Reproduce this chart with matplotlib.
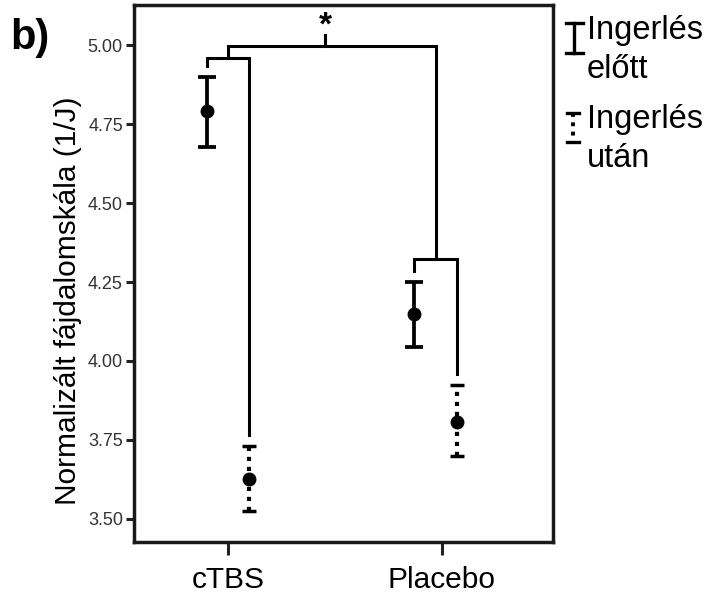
import matplotlib
matplotlib.use("Agg")
import matplotlib.pyplot as plt
from matplotlib.lines import Line2D

plt.rcParams['font.family'] = ['Liberation Sans', 'DejaVu Sans']

# ---- data ----
groups = ["cTBS", "Placebo"]
before_mean = [4.79, 4.15]
before_low = [4.678, 4.045]
before_high = [4.90, 4.25]
after_mean = [3.627, 3.807]
after_low = [3.525, 3.70]
after_high = [3.731, 3.925]
yticks = [3.50, 3.75, 4.00, 4.25, 4.50, 4.75, 5.00]
legend_labels = ["Ingerlés\nelőtt", "Ingerlés\nután"]
ylabel = "Normalizált fájdalomskála (1/J)"

# ---- layout / style ----
tick_pos = [0.0, 1.0]
mark_center = [0.0, 0.97]
offset = 0.1
bracket_y = [4.959, 4.323]
top_y = 4.997
leg_gap = 0.035
lw_err = 2.7
lw_br = 2.2
col = "black"

fig = plt.figure(figsize=(7.24, 5.99), dpi=100)
ax = fig.add_axes([134/724, 1-542/599, (553-134)/724, (542-5)/599])

xb = [c - offset for c in mark_center]
xa = [c + offset for c in mark_center]

eb1 = ax.errorbar(xb, before_mean,
                  yerr=[[m - l for m, l in zip(before_mean, before_low)],
                        [h - m for m, h in zip(before_mean, before_high)]],
                  fmt='o', color=col, ms=9, elinewidth=lw_err, capsize=6.5, capthick=lw_err)
eb2 = ax.errorbar(xa, after_mean,
                  yerr=[[m - l for m, l in zip(after_mean, after_low)],
                        [h - m for m, h in zip(after_mean, after_high)]],
                  fmt='o', color=col, ms=9, elinewidth=3.0, capsize=5, capthick=2.5)
eb2[2][0].set_linestyle((0, (1, 1.4)))

# group brackets
for i in range(2):
    by = bracket_y[i]
    ax.plot([xb[i], xb[i], xa[i], xa[i]],
            [before_high[i] + leg_gap, by, by, after_high[i] + leg_gap],
            color=col, lw=lw_br, solid_joinstyle='miter')
# top bracket
mid = (mark_center[0] + mark_center[1]) / 2
ax.plot([mark_center[0], mark_center[0], mark_center[1], mark_center[1]],
        [bracket_y[0], top_y, top_y, bracket_y[1]],
        color=col, lw=lw_br, solid_joinstyle='miter')
ax.plot([mid - 0.03, mid - 0.03], [top_y, top_y + 0.035], color=col, lw=lw_br)
ax.text(mid - 0.03, top_y + 0.062, "*", ha='center', va='center', fontsize=24,
        fontweight='bold')

ax.set_xlim(-0.439, 1.519)
ax.set_ylim(3.427, 5.127)
ax.set_xticks(tick_pos)
ax.set_xticklabels(groups, fontsize=21.5)
ax.set_yticks(yticks)
ax.set_yticklabels([f"{v:.2f}" for v in yticks], fontsize=13, color="#333333")
ax.tick_params(axis='y', length=6, width=2.2, pad=2, color="#222222")
ax.tick_params(axis='x', length=9, width=2.2, pad=8, color="#222222")
for s in ax.spines.values():
    s.set_linewidth(2.5)
    s.set_color("#1a1a1a")

ax.set_ylabel(ylabel, fontsize=21.5, va='center')
ax.yaxis.set_label_coords(-0.157, 0.45)

# panel label
fig.text(10/724, 1-49/599, "b)", fontsize=30, fontweight='bold', ha='left', va='baseline')

# legend (manual)
def fx(px):
    return px / 724
def fy(py):
    return 1 - py / 599

# solid icon
fig.add_artist(Line2D([fx(574), fx(574)], [fy(23), fy(53)], color=col, lw=2.4))
fig.add_artist(Line2D([fx(566), fx(583)], [fy(23), fy(23)], color=col, lw=2.4))
fig.add_artist(Line2D([fx(566), fx(583)], [fy(53), fy(53)], color=col, lw=2.4))
# dotted icon
fig.add_artist(Line2D([fx(573), fx(573)], [fy(113), fy(142)], color=col, lw=2.8,
                      linestyle=(0, (1, 1.4))))
fig.add_artist(Line2D([fx(567), fx(579)], [fy(113), fy(113)], color=col, lw=2.4))
fig.add_artist(Line2D([fx(567), fx(579)], [fy(142), fy(142)], color=col, lw=2.4))

fig.text(fx(587), fy(15), legend_labels[0], fontsize=23.5, ha='left', va='top',
         linespacing=1.33, multialignment='left')
fig.text(fx(587), fy(104), legend_labels[1], fontsize=23.5, ha='left', va='top',
         linespacing=1.33, multialignment='left')

fig.savefig("out.png", dpi=100)
